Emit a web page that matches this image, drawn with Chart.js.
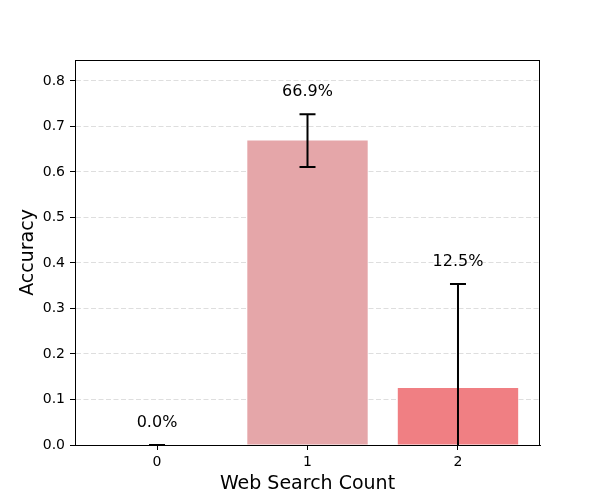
<!DOCTYPE html>
<html>
<head>
<meta charset="utf-8">
<script src="https://cdn.jsdelivr.net/npm/chart.js@4"></script>
<style>
  body { margin: 0; background: #fff; }
  canvas { display: block; }
</style>
</head>
<body>
<canvas id="chart" width="600" height="500"></canvas>
<script>
// data
const counts = [0, 1, 2];
const countLabels = ['0', '1', '2'];
const accuracy = [0.0, 0.669, 0.125];
const errors = [0.0, 0.058, 0.229];
const barColors = ['#e5a6a9', '#e5a6a9', '#f07f83'];
const yTicks = [0.0, 0.1, 0.2, 0.3, 0.4, 0.5, 0.6, 0.7, 0.8];

const FONT = 'DejaVu Sans';

// error bars, value labels and the top/right spines
const extras = {
    id: 'extras',
    afterDatasetsDraw: (chart) => {
        const {ctx, chartArea: a} = chart;
        const xs = chart.scales.x, ys = chart.scales.y;

        ctx.save();
        ctx.beginPath();
        ctx.rect(a.left, a.top - 2, a.right - a.left, a.bottom - a.top + 3);
        ctx.clip();
        ctx.strokeStyle = '#000';
        ctx.lineWidth = 2;
        counts.forEach((c, i) => {
            const x = xs.getPixelForValue(c);
            const yHi = ys.getPixelForValue(accuracy[i] + errors[i]);
            const yLo = ys.getPixelForValue(accuracy[i] - errors[i]);
            ctx.beginPath();
            ctx.moveTo(x, yLo); ctx.lineTo(x, yHi);
            ctx.moveTo(x - 8, yHi); ctx.lineTo(x + 8, yHi);
            ctx.moveTo(x - 8, yLo); ctx.lineTo(x + 8, yLo);
            ctx.stroke();
        });
        ctx.restore();

        ctx.save();
        ctx.fillStyle = '#000';
        ctx.font = `16px "${FONT}"`;
        ctx.textAlign = 'center';
        ctx.textBaseline = 'middle';
        counts.forEach((c, i) => {
            const x = xs.getPixelForValue(c);
            const y = ys.getPixelForValue(accuracy[i] + errors[i]) - 22;
            ctx.fillText((accuracy[i] * 100).toFixed(1) + '%', x, y);
        });
        ctx.restore();
    },
    afterDraw: (chart) => {
        const {ctx, chartArea: a} = chart;
        ctx.save();
        ctx.strokeStyle = '#000';
        ctx.lineWidth = 1;
        ctx.strokeRect(a.left + 0.5, a.top + 0.5, a.right - a.left - 1, a.bottom - a.top);
        ctx.restore();
    }
};

new Chart(document.getElementById('chart'), {
    type: 'bar',
    data: {
        datasets: [{
            data: counts.map((c, i) => ({x: c, y: accuracy[i]})),
            backgroundColor: barColors,
            borderWidth: 0,
            barPercentage: 0.8,
            categoryPercentage: 1.0
        }]
    },
    options: {
        responsive: false,
        animation: false,
        layout: { padding: { top: 60, right: 60, left: 0, bottom: 0 } },
        plugins: { legend: { display: false }, tooltip: { enabled: false } },
        scales: {
            x: {
                type: 'linear',
                min: -0.545,
                max: 2.545,
                offset: false,
                afterFit: s => { s.height = 55; },
                afterBuildTicks: s => { s.ticks = counts.map(v => ({value: v})); },
                ticks: {
                    callback: (v) => countLabels[counts.indexOf(v)],
                    color: '#000',
                    font: { family: FONT, size: 14 },
                    padding: 4,
                    maxRotation: 0
                },
                grid: { offset: false, drawOnChartArea: false, tickLength: 5, tickColor: '#000' },
                border: { color: '#000', width: 1 },
                title: {
                    display: true,
                    text: 'Web Search Count',
                    color: '#000',
                    font: { family: FONT, size: 19, lineHeight: 1 },
                    padding: { top: 0, bottom: 6.5 }
                }
            },
            y: {
                min: 0,
                max: 0.846,
                afterFit: s => { s.width = 75; },
                afterBuildTicks: s => { s.ticks = yTicks.map(v => ({value: v})); },
                ticks: {
                    callback: v => v.toFixed(1),
                    color: '#000',
                    font: { family: FONT, size: 14 },
                    padding: 5
                },
                grid: {
                    color: '#dedede',
                    tickLength: 5,
                    tickColor: '#000',
                    tickBorderDash: []
                },
                border: { color: '#000', width: 1, dash: [5, 2.5] },
                title: {
                    display: true,
                    text: 'Accuracy',
                    color: '#000',
                    font: { family: FONT, size: 19, lineHeight: 1 },
                    padding: { top: 18.5, bottom: 0 }
                }
            }
        }
    },
    plugins: [extras]
});
</script>
</body>
</html>
